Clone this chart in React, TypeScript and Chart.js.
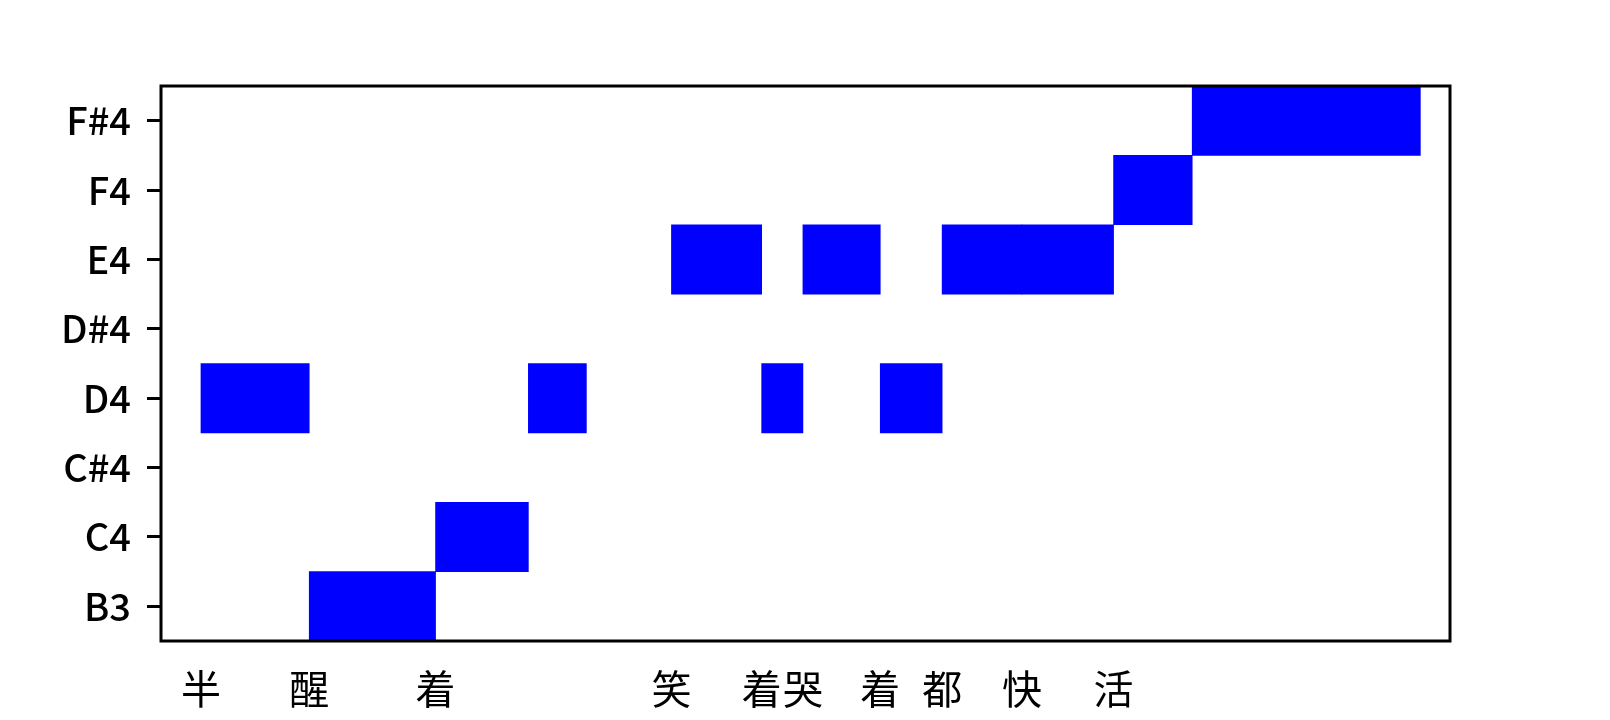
import React, { useEffect, useRef } from "react";
import { Chart, registerables } from "chart.js";

Chart.register(...registerables);

// Pitch rows, bottom to top
const NOTE_NAMES = ["B3", "C4", "C#4", "D4", "D#4", "E4", "F4", "F#4"];

// Notes (time in seconds)
const NOTE_PITCH = ["D4", "B3", "C4", "D4", "E4", "D4", "E4", "D4", "E4", "E4", "F4", "F#4"];
const NOTE_START = [0.31, 1.15, 2.13, 2.85, 3.96, 4.66, 4.98, 5.58, 6.06, 6.68, 7.39, 8.0];
const NOTE_END = [1.15, 2.13, 2.85, 3.3, 4.66, 4.98, 5.58, 6.06, 6.68, 7.39, 8.0, 9.77];
const NOTE_LYRIC = ["半", "醒", "着", "", "笑", "着", "哭", "着", "都", "快", "活", ""];

const X_MIN = 0;
const X_MAX = 10;

const FONT = '"Noto Sans CJK SC", "Noto Sans CJK JP", sans-serif';

export default function App() {
  const canvasRef = useRef<HTMLCanvasElement | null>(null);

  useEffect(() => {
    document.body.style.margin = "0";
    const canvas = canvasRef.current;
    if (!canvas) return;

    const lyricTicks = NOTE_START.map((t, i) => ({ t, s: NOTE_LYRIC[i] })).filter((d) => d.s !== "");

    const framePlugin = {
      id: "frame",
      afterDraw(chart: any) {
        const { ctx, chartArea } = chart;
        const { left, top, right, bottom } = chartArea;
        ctx.save();
        ctx.strokeStyle = "#000";
        ctx.lineWidth = 3;
        ctx.strokeRect(left, top, right - left, bottom - top);
        ctx.restore();
      },
    };

    const chart = new Chart(canvas, {
      type: "bar",
      data: {
        labels: NOTE_NAMES,
        datasets: [
          {
            data: NOTE_PITCH.map((p, i) => ({ y: p, x: [NOTE_START[i], NOTE_END[i]] })) as any,
            backgroundColor: "#0000ff",
            borderWidth: 0,
            barPercentage: 1,
            categoryPercentage: 1,
            grouped: false,
          },
        ],
      },
      options: {
        indexAxis: "y",
        responsive: false,
        animation: false,
        devicePixelRatio: 1,
        layout: { padding: { left: 0, top: 86, right: 160, bottom: 0 } },
        plugins: { legend: { display: false }, tooltip: { enabled: false } },
        scales: {
          x: {
            type: "linear",
            min: X_MIN,
            max: X_MAX,
            border: { display: false },
            grid: { display: false, drawTicks: false },
            afterBuildTicks: (scale: any) => {
              scale.ticks = lyricTicks.map((d) => ({ value: d.t }));
            },
            afterFit: (scale: any) => {
              scale.height = 79;
            },
            ticks: {
              autoSkip: false,
              maxRotation: 0,
              minRotation: 0,
              padding: 24,
              color: "#000",
              font: { family: FONT, size: 40 },
              callback: (value: any, index: number) => lyricTicks[index] ? lyricTicks[index].s : "",
            },
          },
          y: {
            type: "category",
            reverse: true,
            border: { display: false },
            grid: {
              offset: false,
              drawOnChartArea: false,
              drawTicks: true,
              tickLength: 14,
              tickWidth: 3,
              tickColor: "#000",
            },
            afterFit: (scale: any) => {
              scale.width = 161;
            },
            ticks: {
              padding: 16,
              color: "#000",
              font: { family: FONT, size: 38, weight: "500" },
            },
          },
        },
      },
      plugins: [framePlugin],
    });

    return () => chart.destroy();
  }, []);

  return (
    <div style={{ position: "fixed", left: 0, top: 0, width: 1610, height: 720, background: "#fff" }}>
      <canvas ref={canvasRef} width={1610} height={720} />
    </div>
  );
}
